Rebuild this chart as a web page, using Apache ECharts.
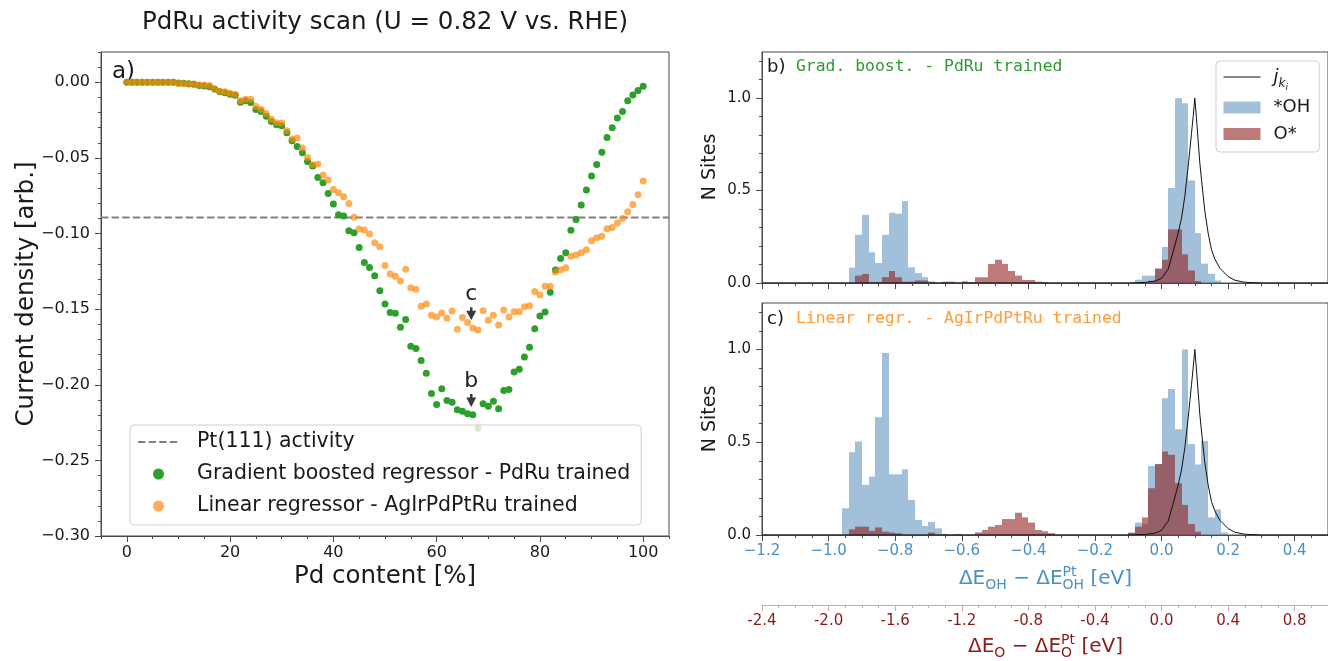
<!DOCTYPE html>
<html>
<head>
<meta charset="utf-8">
<script src="https://cdn.jsdelivr.net/npm/echarts@6/dist/echarts.min.js"></script>
<style>
  html, body { margin: 0; padding: 0; background: #ffffff; }
  #chart { width: 1328px; height: 661px; }
</style>
</head>
<body>
<div id="chart"></div>
<script>
// ---------------- data ----------------
// Pd content of the PdRu alloys [%]
const pdContent = [0,1,2,3,4,5,6,7,8,9,10,11,12,13,14,15,16,17,18,19,20,21,22,23,24,25,26,27,28,29,
  30,31,32,33,34,35,36,37,38,39,40,41,42,43,44,45,46,47,48,49,50,51,52,53,54,55,56,57,58,59,
  60,61,62,63,64,65,66,67,68,69,70,71,72,73,74,75,76,77,78,79,80,81,82,83,84,85,86,87,88,89,
  90,91,92,93,94,95,96,97,98,99,100];

// Current density predicted with the gradient boosted regressor (PdRu trained)
const currentGBR = [0,0,0,0,0,0,0,0,0,0,
  -0.0005,-0.0007,-0.0010,-0.0013,-0.0022,-0.0025,-0.0030,-0.0044,-0.0063,-0.0070,
  -0.0079,-0.0086,-0.0132,-0.0123,-0.0134,-0.0180,-0.0193,-0.0224,-0.0259,-0.0281,
  -0.0288,-0.0334,-0.0387,-0.0424,-0.0466,-0.0524,-0.0554,-0.0629,-0.0664,-0.0735,
  -0.0805,-0.0876,-0.0885,-0.0981,-0.0995,-0.1092,-0.1191,-0.1224,-0.1279,-0.1378,
  -0.1466,-0.1523,-0.1528,-0.1620,-0.1569,-0.1746,-0.1761,-0.1840,-0.1924,-0.2058,
  -0.2131,-0.2027,-0.2104,-0.2115,-0.2166,-0.2175,-0.2192,-0.2199,-0.2287,-0.2126,
  -0.2142,-0.2109,-0.2159,-0.2038,-0.2032,-0.1915,-0.1897,-0.1816,-0.1752,-0.1629,
  -0.1545,-0.1519,-0.1389,-0.1241,-0.1166,-0.1127,-0.0979,-0.0907,-0.0812,-0.0713,
  -0.0620,-0.0544,-0.0462,-0.0365,-0.0301,-0.0237,-0.0193,-0.0123,-0.0085,-0.0055,-0.0026];

// Current density predicted with the linear regressor (AgIrPdPtRu trained)
const currentLinear = [0,0,0,0,0,0,0,0,0,0,
  -0.0008,-0.0008,-0.0012,-0.0012,-0.0019,-0.0019,-0.0022,-0.0046,-0.0059,-0.0063,
  -0.0072,-0.0079,-0.0123,-0.0112,-0.0112,-0.0158,-0.0178,-0.0207,-0.0244,-0.0268,
  -0.0270,-0.0321,-0.0376,-0.0369,-0.0435,-0.0497,-0.0546,-0.0541,-0.0614,-0.0647,
  -0.0709,-0.0731,-0.0757,-0.0801,-0.0893,-0.0970,-0.0977,-0.1004,-0.1061,-0.1087,
  -0.1211,-0.1268,-0.1283,-0.1314,-0.1237,-0.1358,-0.1369,-0.1481,-0.1466,-0.1541,
  -0.1552,-0.1525,-0.1561,-0.1512,-0.1633,-0.1556,-0.1589,-0.1624,-0.1638,-0.1510,
  -0.1574,-0.1541,-0.1605,-0.1505,-0.1552,-0.1517,-0.1517,-0.1484,-0.1477,-0.1384,
  -0.1406,-0.1349,-0.1349,-0.1254,-0.1239,-0.1226,-0.1151,-0.1142,-0.1127,-0.1107,
  -0.1048,-0.1028,-0.1019,-0.0968,-0.0960,-0.0931,-0.0900,-0.0856,-0.0808,-0.0744,-0.0653];

// Pt(111) reference activity
const pt111Activity = -0.0895;

// arrows marking the compositions shown in panels b) and c)
const arrowTips = [[66.7, -0.1574], [66.7, -0.2147]];
const arrowLabels = ['c', 'b'];

// histogram bins: [left edge of bin (OH scale, eV), normalised count]
const BIN_WIDTH = 0.02;
const ohHistB = [[-0.94,0.083],[-0.92,0.261],[-0.90,0.369],[-0.88,0.166],[-0.86,0.108],[-0.84,0.261],
  [-0.82,0.380],[-0.80,0.375],[-0.78,0.443],[-0.76,0.085],[-0.74,0.054],[-0.72,0.032],[-0.70,0.009],
  [-0.08,0.018],[-0.06,0.040],[-0.04,0.040],[-0.02,0.077],[0.00,0.195],[0.02,0.514],[0.04,1.000],
  [0.06,0.973],[0.08,0.555],[0.10,0.270],[0.12,0.105],[0.14,0.050],[0.16,0.014]];
const oHistB = [[-0.92,0.040],[-0.90,0.049],[-0.88,0.004],[-0.86,0.004],[-0.84,0.032],[-0.82,0.065],
  [-0.80,0.031],[-0.78,0.007],[-0.76,0.007],[-0.74,0.014],[-0.72,0.014],[-0.70,0.004],[-0.66,0.007],
  [-0.64,0.007],[-0.60,0.009],[-0.58,0.004],[-0.56,0.031],[-0.54,0.031],[-0.52,0.103],[-0.50,0.126],
  [-0.48,0.103],[-0.46,0.065],[-0.44,0.040],[-0.42,0.016],[-0.40,0.016],[-0.38,0.007],[-0.36,0.004],
  [-0.04,0.012],[-0.02,0.078],[0.00,0.126],[0.02,0.290],[0.04,0.290],[0.06,0.155],[0.08,0.068],[0.10,0.010]];
const ohHistC = [[-0.96,0.144],[-0.94,0.446],[-0.92,0.504],[-0.90,0.270],[-0.88,0.315],[-0.86,0.635],
  [-0.84,0.980],[-0.82,0.327],[-0.80,0.327],[-0.78,0.354],[-0.76,0.189],[-0.74,0.081],[-0.72,0.049],
  [-0.70,0.070],[-0.68,0.036],
  [-0.10,0.010],[-0.08,0.067],[-0.06,0.060],[-0.04,0.372],[-0.02,0.380],[0.00,0.737],[0.02,0.786],
  [0.04,0.570],[0.06,1.000],[0.08,0.490],[0.10,0.380],[0.12,0.507],[0.14,0.095],[0.16,0.138],[0.18,0.014]];
const oHistC = [[-0.94,0.030],[-0.92,0.045],[-0.90,0.045],[-0.88,0.022],[-0.86,0.041],[-0.84,0.018],
  [-0.82,0.013],[-0.80,0.009],[-0.70,0.013],[-0.66,0.005],[-0.62,0.005],[-0.56,0.014],[-0.54,0.027],
  [-0.52,0.045],[-0.50,0.054],[-0.48,0.086],[-0.46,0.086],[-0.44,0.120],[-0.42,0.095],[-0.40,0.067],
  [-0.38,0.027],[-0.36,0.020],[-0.34,0.010],
  [-0.10,0.013],[-0.08,0.045],[-0.06,0.095],[-0.04,0.252],[-0.02,0.383],[0.00,0.450],[0.02,0.432],
  [0.04,0.279],[0.06,0.162],[0.08,0.059],[0.10,0.018]];

// kinetic current j_k (normalised) vs. ΔE_OH
const jkCurve = [[-1.2,0],[-0.1,0],[-0.05,0.003],[-0.02,0.010],[0.0,0.025],[0.02,0.075],[0.035,0.17],
  [0.05,0.27],[0.06,0.35],[0.07,0.47],[0.075,0.55],[0.08,0.63],[0.085,0.72],[0.09,0.81],[0.095,0.90],
  [0.1,1.0],[0.105,0.89],[0.11,0.77],[0.115,0.65],[0.12,0.56],[0.13,0.39],[0.14,0.27],[0.15,0.18],
  [0.16,0.13],[0.175,0.08],[0.2,0.035],[0.22,0.015],[0.25,0.004],[0.3,0],[0.5,0]];

// tick labels
const PD_TICKS = [0, 20, 40, 60, 80, 100];
const CURRENT_TICKS = [-0.30, -0.25, -0.20, -0.15, -0.10, -0.05, 0.00];
const OH_TICKS = [-1.2, -1.0, -0.8, -0.6, -0.4, -0.2, 0.0, 0.2, 0.4];
const O_TICKS = [-2.4, -2.0, -1.6, -1.2, -0.8, -0.4, 0.0, 0.4, 0.8];
const SITE_TICKS = [0, 0.5, 1.0];

// ---------------- style ----------------
const FONT = 'DejaVu Sans';
const MONO = 'DejaVu Sans Mono';
const TXT = '#1a1a1a';
const SPINE = '#4a4a4a';
const GREEN = '#2ca02c';
const ORANGE = 'rgba(255,137,10,0.85)';
const OH_FILL = 'rgba(70,130,180,0.5)';
const O_FILL = 'rgba(139,26,26,0.58)';
const BLUE_TXT = '#4a8fc4';
const RED_TXT = '#8b1a1a';
const RED_AXIS = '#d2a7a7';

const GRID_A = { left: 101, top: 52, width: 568, height: 484 };
const GRID_B = { left: 762, top: 52, width: 567, height: 231 };
const GRID_C = { left: 762, top: 303, width: 567, height: 232 };

function tickRange(a, b, step) {
  const out = [];
  const n = Math.round((b - a) / step);
  for (let i = 0; i <= n; i++) out.push(+(a + i * step).toFixed(6));
  return out;
}
const fmt = (v, d) => (v < -1e-9 ? '\u2212' : '') + Math.abs(v).toFixed(d);

function mainAxis(extra) {
  return Object.assign({
    type: 'value', splitLine: { show: false },
    axisLine: { show: true, onZero: false, lineStyle: { color: SPINE, width: 1 } },
    axisTick: { show: true, length: 6, lineStyle: { color: SPINE, width: 1 } }
  }, extra);
}
function minorAxis(extra, values, color) {
  return Object.assign({
    type: 'value', splitLine: { show: false },
    axisLine: { show: false, onZero: false },
    axisLabel: { show: false },
    axisTick: { show: true, length: 3, customValues: values, lineStyle: { color: color || SPINE, width: 1 } }
  }, extra);
}

// ---------------- mathtext-like labels ----------------
const measureCtx = document.createElement('canvas').getContext('2d');
function textWidth(t, size) { measureCtx.font = size + 'px "' + FONT + '"'; return measureCtx.measureText(t).width; }
function mathLabel(cx, baseline, pieces, color, size) {
  const small = size * 0.7;
  const items = [];
  let x = 0;
  pieces.forEach(p => {
    if (p[0] === 't') {
      items.push({ t: p[1], x, s: size, dy: 0 }); x += textWidth(p[1], size);
    } else if (p[0] === 'sub') {
      items.push({ t: p[1], x, s: small, dy: size * 0.24 }); x += textWidth(p[1], small);
    } else {
      items.push({ t: p[1], x, s: small, dy: -size * 0.43 });
      items.push({ t: p[2], x, s: small, dy: size * 0.24 });
      x += Math.max(textWidth(p[1], small), textWidth(p[2], small));
    }
  });
  const x0 = cx - x / 2;
  return items.map(it => ({
    type: 'text', silent: true, x: x0 + it.x, y: baseline + it.dy - 0.3 * it.s,
    style: { text: it.t, fontSize: it.s, fontFamily: FONT, fill: color, align: 'left', verticalAlign: 'middle' }
  }));
}

function label(x, y, text, size, opts) {
  const o = opts || {};
  return {
    type: 'text', silent: true, x, y, rotation: o.rotation || 0,
    style: { text, fontSize: size, fontFamily: o.family || FONT, fill: o.color || TXT,
      align: o.align || 'left', verticalAlign: 'middle' }
  };
}

// ---------------- series helpers ----------------
function histSeries(name, data, color, xi, yi) {
  return {
    type: 'custom', name, xAxisIndex: xi, yAxisIndex: yi, data, z: 2, silent: true,
    itemStyle: { color },
    renderItem(params, api) {
      const left = api.value(0), h = api.value(1);
      const p0 = api.coord([left, 0]);
      const p1 = api.coord([left + BIN_WIDTH, h]);
      const x0 = Math.round(p0[0]), x1 = Math.round(p1[0]);
      return { type: 'rect', shape: { x: x0, y: p1[1], width: x1 - x0, height: p0[1] - p1[1] }, style: { fill: color } };
    }
  };
}
function jkSeries(name, xi, yi) {
  return {
    type: 'line', name, xAxisIndex: xi, yAxisIndex: yi, data: jkCurve, symbol: 'none', z: 3, silent: true,
    lineStyle: { color: '#111111', width: 1 }, itemStyle: { color: '#111111' }
  };
}

const chart = echarts.init(document.getElementById('chart'), null, { renderer: 'canvas' });

const option = {
  animation: false,
  backgroundColor: '#ffffff',
  textStyle: { fontFamily: FONT },
  grid: [
    Object.assign({ show: true, borderColor: SPINE, borderWidth: 1, containLabel: false }, GRID_A),
    Object.assign({ show: true, borderColor: SPINE, borderWidth: 1, containLabel: false }, GRID_B),
    Object.assign({ show: true, borderColor: SPINE, borderWidth: 1, containLabel: false }, GRID_C)
  ],
  xAxis: [
    mainAxis({ gridIndex: 0, position: 'bottom', min: -5, max: 105,
      axisTick: { show: true, length: 6, customValues: PD_TICKS, lineStyle: { color: SPINE } },
      axisLabel: { customValues: PD_TICKS, fontSize: 16, color: TXT, margin: 9, fontFamily: FONT } }),
    minorAxis({ gridIndex: 0, position: 'bottom', min: -5, max: 105 }, tickRange(-5, 105, 5)),
    mainAxis({ gridIndex: 1, position: 'bottom', min: -1.2, max: 0.5,
      axisTick: { show: true, length: 6, customValues: OH_TICKS, lineStyle: { color: SPINE } },
      axisLabel: { show: false } }),
    minorAxis({ gridIndex: 1, position: 'bottom', min: -1.2, max: 0.5 }, tickRange(-1.2, 0.5, 0.05)),
    mainAxis({ gridIndex: 2, position: 'bottom', min: -1.2, max: 0.5,
      axisLine: { show: true, onZero: false, lineStyle: { color: '#2c4f7c', width: 1 } },
      axisTick: { show: true, length: 6, customValues: OH_TICKS, lineStyle: { color: SPINE } },
      axisLabel: { customValues: OH_TICKS, fontSize: 15, color: BLUE_TXT, margin: 9, fontFamily: FONT,
        formatter: v => fmt(v, 1) } }),
    minorAxis({ gridIndex: 2, position: 'bottom', min: -1.2, max: 0.5 }, tickRange(-1.2, 0.5, 0.05)),
    mainAxis({ gridIndex: 2, position: 'bottom', offset: 70, min: -2.4, max: 1.0,
      axisLine: { show: true, onZero: false, lineStyle: { color: RED_AXIS, width: 1 } },
      axisTick: { show: true, length: 6, customValues: O_TICKS, lineStyle: { color: RED_AXIS } },
      axisLabel: { customValues: O_TICKS, fontSize: 15, color: RED_TXT, margin: 9, fontFamily: FONT,
        formatter: v => v.toFixed(1) } }),
    minorAxis({ gridIndex: 2, position: 'bottom', offset: 70, min: -2.4, max: 1.0 }, tickRange(-2.4, 1.0, 0.1), RED_AXIS)
  ],
  yAxis: [
    mainAxis({ gridIndex: 0, position: 'left', min: -0.30, max: 0.02,
      axisTick: { show: true, length: 6, customValues: CURRENT_TICKS, lineStyle: { color: SPINE } },
      axisLabel: { customValues: CURRENT_TICKS, fontSize: 16, color: TXT, margin: 11, fontFamily: FONT,
        formatter: v => fmt(v, 2) } }),
    minorAxis({ gridIndex: 0, position: 'left', min: -0.30, max: 0.02 }, tickRange(-0.30, 0.02, 0.01)),
    mainAxis({ gridIndex: 1, position: 'left', min: 0, max: 1.25,
      axisTick: { show: true, length: 6, customValues: SITE_TICKS, lineStyle: { color: SPINE } },
      axisLabel: { customValues: SITE_TICKS, fontSize: 15, color: TXT, margin: 11, fontFamily: FONT,
        formatter: v => v.toFixed(1) } }),
    minorAxis({ gridIndex: 1, position: 'left', min: 0, max: 1.25 }, tickRange(0, 1.2, 0.1)),
    mainAxis({ gridIndex: 2, position: 'left', min: 0, max: 1.25,
      axisTick: { show: true, length: 6, customValues: SITE_TICKS, lineStyle: { color: SPINE } },
      axisLabel: { customValues: SITE_TICKS, fontSize: 15, color: TXT, margin: 11, fontFamily: FONT,
        formatter: v => v.toFixed(1) } }),
    minorAxis({ gridIndex: 2, position: 'left', min: 0, max: 1.25 }, tickRange(0, 1.2, 0.1))
  ],
  legend: [
    {
      left: 130, top: 425, orient: 'vertical', selectedMode: false,
      padding: [6, 11, 8, 7], itemGap: 10, itemWidth: 41, itemHeight: 11,
      backgroundColor: 'rgba(255,255,255,0.8)', borderColor: '#cfcfcf', borderWidth: 1, borderRadius: 4,
      textStyle: { fontSize: 20.5, fontFamily: FONT, color: TXT, lineHeight: 22, padding: [0, 0, 0, 13] },
      data: [
        { name: 'Pt(111) activity', itemStyle: { opacity: 0 } },
        { name: 'Gradient boosted regressor - PdRu trained', icon: 'circle' },
        { name: 'Linear regressor - AgIrPdPtRu trained', icon: 'circle' }
      ]
    },
    {
      left: 1216, top: 61, orient: 'vertical', selectedMode: false,
      padding: [1, 9, 7, 7], itemGap: 4.5, itemWidth: 37, itemHeight: 12,
      backgroundColor: 'rgba(255,255,255,0.8)', borderColor: '#cfcfcf', borderWidth: 1, borderRadius: 4,
      formatter: name => name === 'jk' ? '{j|j}{k|k}{i|i}' : name,
      textStyle: {
        fontSize: 18, fontFamily: FONT, color: TXT, lineHeight: 22, padding: [0, 0, 0, 8],
        rich: {
          j: { fontSize: 18, fontStyle: 'italic', fontFamily: FONT, color: TXT, lineHeight: 30, verticalAlign: 'middle' },
          k: { fontSize: 12, fontStyle: 'italic', fontFamily: FONT, color: TXT, lineHeight: 12, verticalAlign: 'bottom', padding: [0, 0, 2, 0] },
          i: { fontSize: 9, fontStyle: 'italic', fontFamily: FONT, color: TXT, lineHeight: 9, verticalAlign: 'bottom' }
        }
      },
      data: [
        { name: 'jk', itemStyle: { opacity: 0 }, lineStyle: { width: 1 } },
        { name: '*OH', icon: 'rect' },
        { name: 'O*', icon: 'rect' }
      ]
    }
  ],
  series: [
    {
      type: 'line', name: 'Pt(111) activity', xAxisIndex: 0, yAxisIndex: 0, z: 1, silent: true,
      data: [[-5, pt111Activity], [105, pt111Activity]], symbol: 'none',
      lineStyle: { color: '#808080', width: 2, type: [7.4, 3.2] }, itemStyle: { color: '#808080' }
    },
    {
      type: 'scatter', name: 'Gradient boosted regressor - PdRu trained', xAxisIndex: 0, yAxisIndex: 0, z: 2,
      symbol: 'circle', symbolSize: 7, silent: true,
      data: pdContent.map((x, i) => [x, currentGBR[i]]),
      itemStyle: { color: GREEN, opacity: 1 }
    },
    {
      type: 'scatter', name: 'Linear regressor - AgIrPdPtRu trained', xAxisIndex: 0, yAxisIndex: 0, z: 3,
      symbol: 'circle', symbolSize: 7, silent: true,
      data: pdContent.map((x, i) => [x, currentLinear[i]]),
      itemStyle: { color: ORANGE }
    },
    {
      type: 'custom', name: 'arrows', xAxisIndex: 0, yAxisIndex: 0, z: 5, silent: true, clip: false,
      data: arrowTips,
      renderItem(params, api) {
        const p = api.coord([api.value(0), api.value(1)]);
        const c = '#3a3a3a';
        return {
          type: 'group', children: [
            { type: 'line', shape: { x1: p[0], y1: p[1] - 13, x2: p[0], y2: p[1] - 8 }, style: { stroke: c, lineWidth: 2.5 } },
            { type: 'polygon', shape: { points: [[p[0] - 5, p[1] - 9.5], [p[0] + 5, p[1] - 9.5], [p[0], p[1]]] }, style: { fill: c } },
            { type: 'text', x: p[0], y: p[1] - 26, style: { text: arrowLabels[params.dataIndex], fontSize: 22, fontFamily: FONT, fill: '#222', align: 'center', verticalAlign: 'middle' } }
          ]
        };
      }
    },
    histSeries('*OH', ohHistB, OH_FILL, 2, 2),
    histSeries('O*', oHistB, O_FILL, 2, 2),
    jkSeries('jk', 2, 2),
    histSeries('*OH (c)', ohHistC, OH_FILL, 4, 4),
    histSeries('O* (c)', oHistC, O_FILL, 4, 4),
    jkSeries('jk (c)', 4, 4)
  ],
  graphic: [].concat(
    [
      label(385, 23, 'PdRu activity scan (U = 0.82 V vs. RHE)', 24.5, { align: 'center' }),
      label(112, 72, 'a)', 23),
      label(27, 294, 'Current density [arb.]', 24.5, { align: 'center', rotation: Math.PI / 2 }),
      label(385, 577, 'Pd content [%]', 24.5, { align: 'center' }),
      label(767, 67, 'b)', 18),
      label(796, 67, 'Grad. boost. - PdRu trained', 16.4, { family: MONO, color: '#2e9a2e' }),
      label(767, 319, 'c)', 18),
      label(796, 319, 'Linear regr. - AgIrPdPtRu trained', 16.4, { family: MONO, color: '#ff9a35' }),
      label(710, 167, 'N Sites', 19, { align: 'center', rotation: Math.PI / 2 }),
      label(710, 419, 'N Sites', 19, { align: 'center', rotation: Math.PI / 2 })
    ],
    mathLabel(1045.5, 585, [['t', '\u0394E'], ['sub', 'OH'], ['t', ' \u2212 \u0394E'], ['stack', 'Pt', 'OH'], ['t', ' [eV]']], BLUE_TXT, 20),
    mathLabel(1045.5, 653, [['t', '\u0394E'], ['sub', 'O'], ['t', ' \u2212 \u0394E'], ['stack', 'Pt', 'O'], ['t', ' [eV]']], RED_TXT, 20)
  )
};

chart.setOption(option);
</script>
</body>
</html>
